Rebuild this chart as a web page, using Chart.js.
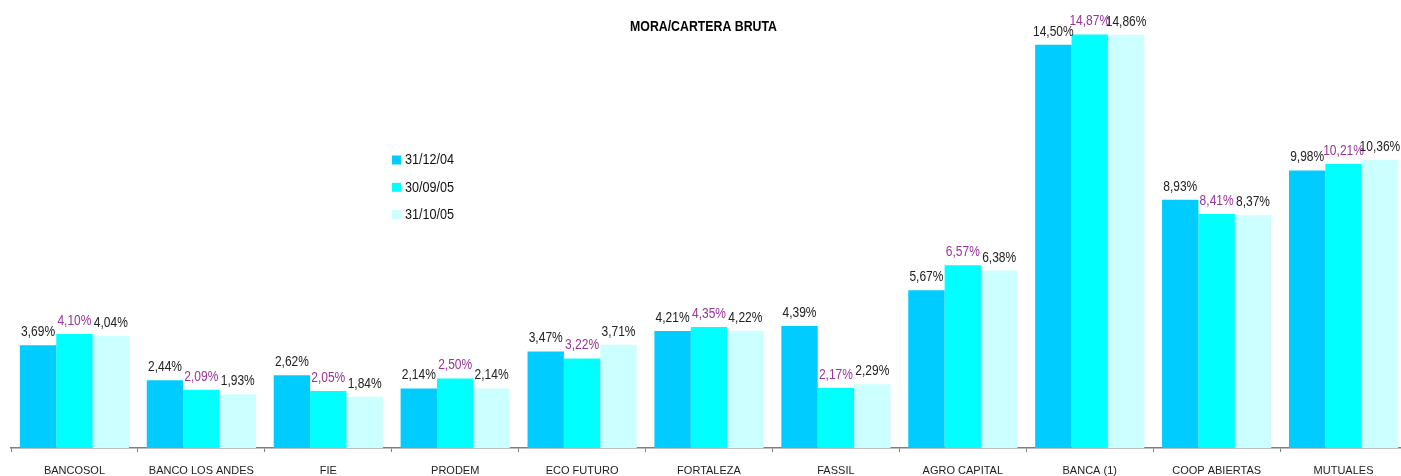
<!DOCTYPE html>
<html>
<head>
<meta charset="utf-8">
<script src="https://cdn.jsdelivr.net/npm/chart.js@4.4.0/dist/chart.umd.min.js"></script>
<style>
  html, body { margin: 0; padding: 0; background: #fff; overflow: hidden; }
  #wrap { width: 1407px; height: 476px; }
</style>
</head>
<body>
<div id="wrap"><canvas id="moraChart"></canvas></div>
<script>
// categories and series
var categories = ['BANCOSOL', 'BANCO LOS ANDES', 'FIE', 'PRODEM', 'ECO FUTURO', 'FORTALEZA',
                  'FASSIL', 'AGRO CAPITAL', 'BANCA (1)', 'COOP ABIERTAS', 'MUTUALES'];
var serieDic04 = [3.69, 2.44, 2.62, 2.14, 3.47, 4.21, 4.39, 5.67, 14.50, 8.93, 9.98];
var serieSep05 = [4.10, 2.09, 2.05, 2.50, 3.22, 4.35, 2.17, 6.57, 14.87, 8.41, 10.21];
var serieOct05 = [4.04, 1.93, 1.84, 2.14, 3.71, 4.22, 2.29, 6.38, 14.86, 8.37, 10.36];
var seriesLabels = ['31/12/04', '30/09/05', '31/10/05'];

var fontName = '"Liberation Sans", Arial, sans-serif';

//format number as spanish percentage
function fmtPct(v) {
    return v.toFixed(2).replace('.', ',') + '%';
}

//draws text squeezed horizontally (the original uses a narrow font)
function narrowText(ctx, text, x, y, sx) {
    ctx.save();
    ctx.translate(x, y);
    ctx.scale(sx, 1);
    ctx.fillText(text, 0, 0);
    ctx.restore();
}

//draws the value above every bar
var valueLabels = {
    id: 'valueLabels',
    afterDatasetsDraw: function(chart) {
        var ctx = chart.ctx;
        ctx.save();
        ctx.font = '15px ' + fontName;
        ctx.textAlign = 'center';
        ctx.textBaseline = 'alphabetic';
        chart.data.datasets.forEach(function(ds, i) {
            var meta = chart.getDatasetMeta(i);
            ctx.fillStyle = ds.labelColor;
            meta.data.forEach(function(bar, j) {
                narrowText(ctx, fmtPct(ds.data[j]), bar.x, bar.y - 9, 0.8);
            });
        });
        ctx.restore();
    }
};

//title and legend in the same spots as the original
var titleLegend = {
    id: 'titleLegend',
    afterDraw: function(chart) {
        var ctx = chart.ctx;
        ctx.save();
        ctx.fillStyle = '#000';
        ctx.font = 'bold 14px ' + fontName;
        ctx.textAlign = 'center';
        ctx.textBaseline = 'middle';
        narrowText(ctx, 'MORA/CARTERA BRUTA', chart.width / 2, 27, 0.88);

        ctx.font = '14px ' + fontName;
        ctx.textAlign = 'left';
        chart.data.datasets.forEach(function(ds, i) {
            var y = 160 + i * 27.3;
            ctx.fillStyle = ds.backgroundColor;
            ctx.fillRect(392, y - 4.5, 9, 9);
            ctx.fillStyle = '#111';
            narrowText(ctx, ds.label, 405, y + 0.5, 0.9);
        });
        ctx.restore();
    }
};

var ctx = document.getElementById('moraChart').getContext('2d');

var chartData = {
    labels: categories,
    datasets: [
        { label: seriesLabels[0], data: serieDic04, backgroundColor: '#00CCFF', labelColor: '#222' },
        { label: seriesLabels[1], data: serieSep05, backgroundColor: '#00FFFF', labelColor: '#993399' },
        { label: seriesLabels[2], data: serieOct05, backgroundColor: '#CCFFFF', labelColor: '#222' }
    ]
};

var moraChart = new Chart(ctx, {
    type: 'bar',
    data: chartData,
    plugins: [valueLabels, titleLegend],
    options: {
        responsive: true,
        maintainAspectRatio: false,
        animation: false,
        datasets: {
            bar: { categoryPercentage: 0.86, barPercentage: 1.0, borderWidth: 0 }
        },
        layout: { padding: { left: 11, right: 0, top: 3, bottom: 0 } },
        plugins: {
            legend: { display: false },
            title: { display: false },
            tooltip: { enabled: false }
        },
        scales: {
            x: {
                offset: true,
                afterFit: function(scale) { scale.height = 28; },
                grid: {
                    display: true,
                    offset: true,
                    drawOnChartArea: false,
                    tickLength: 4,
                    color: '#7f7f7f',
                    lineWidth: 1
                },
                border: { display: true, color: '#7f7f7f', width: 1.5 },
                ticks: {
                    color: '#222',
                    padding: 12,
                    maxRotation: 0,
                    autoSkip: false,
                    font: { family: fontName, size: 11 }
                }
            },
            y: {
                display: false,
                min: 0,
                max: 16
            }
        }
    }
});
</script>
</body>
</html>
